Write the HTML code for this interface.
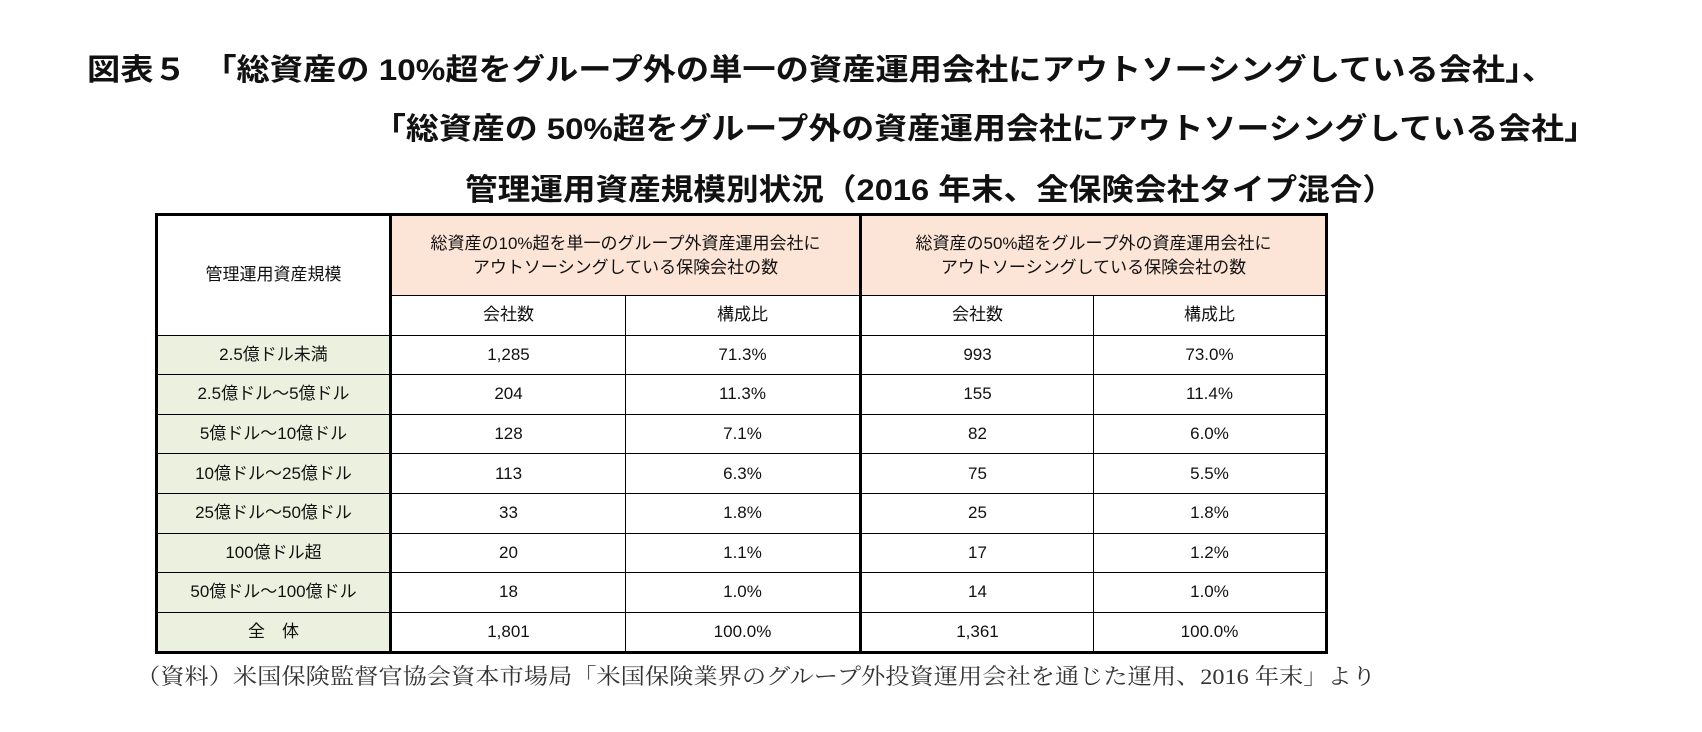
<!DOCTYPE html>
<html><head><meta charset="utf-8">
<style>
html,body{margin:0;padding:0;background:#fff;}
body{width:1702px;height:732px;position:relative;overflow:hidden;font-family:"Liberation Sans","Noto Sans CJK JP",sans-serif;color:#111;}
.t{position:absolute;white-space:nowrap;font-weight:bold;font-size:30px;line-height:30px;transform-origin:0 50%;}
table{position:absolute;left:155px;top:213px;border-collapse:collapse;border:3px solid #000;table-layout:fixed;}
td{border:1.5px solid #000;text-align:center;vertical-align:middle;font-size:17px;padding:0;height:38.6px;line-height:20px;}
.hd{background:#fce4d6;height:79px;line-height:24px;}
.lab{background:#ebf1de;}
.tk{border-right:3px solid #000;}
.foot{position:absolute;left:136px;top:660px;font-family:"Liberation Serif","Noto Serif CJK SC",serif;font-size:22px;color:#333;white-space:nowrap;transform-origin:0 50%;}
</style></head><body>
<div class="t" id="t1" data-w="1468" style="left:87px;top:56px;">図表５　「総資産の 10%超をグループ外の単一の資産運用会社にアウトソーシングしている会社」、</div>
<div class="t" id="t2" data-w="1224" style="left:373px;top:115px;">「総資産の 50%超をグループ外の資産運用会社にアウトソーシングしている会社」</div>
<div class="t" id="t3" data-w="930" style="left:465px;top:176px;">管理運用資産規模別状況（2016 年末、全保険会社タイプ混合）</div>

<table>
<colgroup><col style="width:234px"><col style="width:235px"><col style="width:235px"><col style="width:233px"><col style="width:233px"></colgroup>
<tbody id="tb">
<tr>
<td rowspan="2" class="tk">管理運用資産規模</td>
<td colspan="2" class="hd tk">総資産の10%超を単一のグループ外資産運用会社に<br>アウトソーシングしている保険会社の数</td>
<td colspan="2" class="hd">総資産の50%超をグループ外の資産運用会社に<br>アウトソーシングしている保険会社の数</td>
</tr>
<tr>
<td>会社数</td>
<td class="tk">構成比</td>
<td>会社数</td>
<td>構成比</td>
</tr>
</tbody></table>

<div class="foot" id="ft" data-w="1240">（資料）米国保険監督官協会資本市場局「米国保険業界のグループ外投資運用会社を通じた運用、2016 年末」より</div>

<script>
const categories=["2.5億ドル未満","2.5億ドル～5億ドル","5億ドル～10億ドル","10億ドル～25億ドル","25億ドル～50億ドル","100億ドル超","50億ドル～100億ドル","全　体"];
const count10=["1,285","204","128","113","33","20","18","1,801"];
const ratio10=["71.3%","11.3%","7.1%","6.3%","1.8%","1.1%","1.0%","100.0%"];
const count50=["993","155","82","75","25","17","14","1,361"];
const ratio50=["73.0%","11.4%","6.0%","5.5%","1.8%","1.2%","1.0%","100.0%"];
const tb=document.getElementById('tb');
categories.forEach((c,i)=>{
  const tr=document.createElement('tr');
  
  
  const vals=[c,count10[i],ratio10[i],count50[i],ratio50[i]];
  vals.forEach((v,j)=>{
    const td=document.createElement('td');
    td.textContent=v;
    if(j===0)td.className='lab tk';
    if(j===2)td.className='tk';
    
    
    tr.appendChild(td);
  });
  tb.appendChild(tr);
});
['t1','t2','t3','ft'].forEach(id=>{
  const el=document.getElementById(id);
  const w=+el.dataset.w;
  const r=el.getBoundingClientRect().width;
  if(r>0)el.style.transform='scaleX('+(w/r)+')';
});
</script>
</body></html>
